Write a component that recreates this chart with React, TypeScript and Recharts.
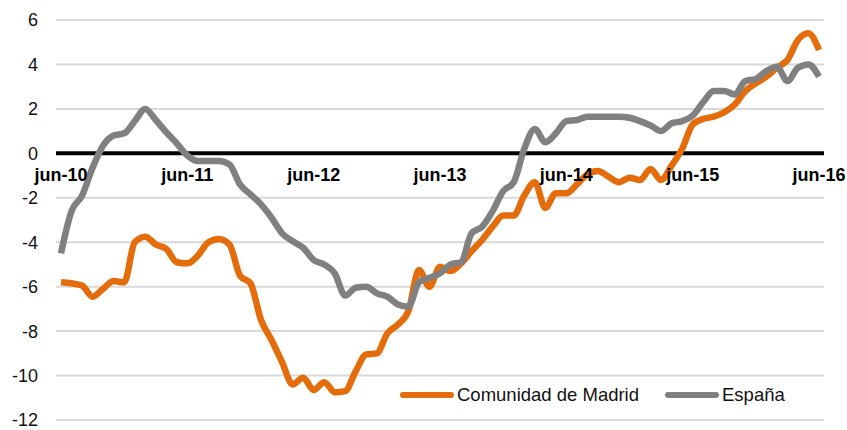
import React from 'react';
import {
  CartesianGrid,
  Legend,
  Line,
  LineChart,
  ReferenceDot,
  ReferenceLine,
  XAxis,
  YAxis,
} from 'recharts';

const monthNames = ['ene', 'feb', 'mar', 'abr', 'may', 'jun', 'jul', 'ago', 'sep', 'oct', 'nov', 'dic'];

// jun-10 .. jun-16, monthly
const months = Array.from({ length: 73 }, (_, i) => {
  const m = 5 + i;
  return `${monthNames[m % 12]}-${10 + Math.floor(m / 12)}`;
});

const xTickLabels = ['jun-10', 'jun-11', 'jun-12', 'jun-13', 'jun-14', 'jun-15', 'jun-16'];
const yTicks = [-12, -10, -8, -6, -4, -2, 0, 2, 4, 6];

const madrid = [
  -5.8, -5.85, -5.95, -6.45, -6.1, -5.75, -5.8, -4.0, -3.75, -4.1, -4.3, -4.9,
  -4.95, -4.6, -4.0, -3.85, -4.1, -5.5, -5.85, -7.5, -8.4, -9.4, -10.4, -10.1,
  -10.65, -10.3, -10.75, -10.7, -9.8, -9.05, -9.0, -8.1, -7.7, -7.1, -5.25, -6.0,
  -5.1, -5.3, -4.95, -4.4, -3.9, -3.3, -2.8, -2.8, -1.9, -1.3, -2.45, -1.8,
  -1.8, -1.4, -0.95, -0.8, -1.05, -1.3, -1.1, -1.2, -0.7, -1.2, -0.55, 0.2,
  1.3, 1.55, 1.65, 1.85, 2.2, 2.8, 3.15, 3.45, 3.85, 4.2, 5.1, 5.4,
  4.65,
];

const espana = [
  -4.5, -2.6, -1.9, -0.65, 0.35, 0.8, 0.9, 1.45, 2.0, 1.5, 0.95, 0.45,
  -0.1, -0.35, -0.35, -0.35, -0.5, -1.4, -1.85, -2.3, -2.9, -3.6, -3.95, -4.25,
  -4.8, -5.0, -5.4, -6.4, -6.05, -6.0, -6.3, -6.45, -6.8, -6.9, -5.8, -5.6,
  -5.4, -5.0, -4.9, -3.6, -3.3, -2.6, -1.7, -1.3, 0.2, 1.1, 0.5, 0.9,
  1.45, 1.5, 1.65, 1.65, 1.65, 1.65, 1.6, 1.45, 1.25, 1.0, 1.35, 1.45,
  1.7, 2.3, 2.8, 2.8, 2.65, 3.25, 3.35, 3.7, 3.9, 3.25, 3.85, 4.0,
  3.45,
];

const ORANGE = '#E46C0A';
const GRAY = '#808080';
const FONT = '"Liberation Sans", Arial, Helvetica, sans-serif';

const chartData = months.map((month, i) => ({
  month,
  madrid: madrid[i],
  espana: espana[i],
}));

function LegendContent({ payload }: any) {
  return (
    <div style={{ display: 'flex', alignItems: 'center', fontFamily: FONT, fontSize: 18.5, color: '#111' }}>
      {(payload ?? []).map((entry: any, i: number) => (
        <div key={entry.value} style={{ display: 'flex', alignItems: 'center', marginLeft: i > 0 ? 26 : 0 }}>
          <span
            style={{
              display: 'inline-block',
              width: 54,
              height: 6,
              borderRadius: 3,
              background: entry.color,
              marginRight: 3,
            }}
          />
          <span style={{ whiteSpace: 'nowrap' }}>{entry.value}</span>
        </div>
      ))}
    </div>
  );
}

export default function App() {
  return (
    <div style={{ position: 'absolute', left: 0, top: 0, width: 847, height: 430, background: '#fff' }}>
      <LineChart width={847} height={430} data={chartData} margin={{ top: 20, right: 23, bottom: 10, left: 0 }}>
        <CartesianGrid vertical={false} stroke="#D9D9D9" strokeWidth={2} />
        <XAxis dataKey="month" hide padding={{ left: 5, right: 5 }} />
        <YAxis
          domain={[-12, 6]}
          ticks={yTicks}
          width={56}
          axisLine={false}
          tickLine={false}
          tickSize={0}
          tickMargin={18}
          interval={0}
          tick={{ fontSize: 18, fill: '#111', fontFamily: FONT }}
        />
        <ReferenceLine y={0} stroke="#000" strokeWidth={4} />
        <Line
          type="monotone"
          dataKey="madrid"
          name="Comunidad de Madrid"
          stroke={ORANGE}
          strokeWidth={6.5}
          dot={false}
          isAnimationActive={false}
        />
        <Line
          type="monotone"
          dataKey="espana"
          name="España"
          stroke={GRAY}
          strokeWidth={6.5}
          dot={false}
          isAnimationActive={false}
        />
        {xTickLabels.map((label) => (
          <ReferenceDot
            key={label}
            x={label}
            y={0}
            r={0}
            shape={(p: any) => (
              <text
                x={p.cx}
                y={p.cy + 28}
                textAnchor="middle"
                fontFamily={FONT}
                fontSize={18}
                fontWeight="bold"
                fill="#000"
              >
                {label}
              </text>
            )}
          />
        ))}
        <Legend
          layout="vertical"
          verticalAlign="middle"
          align="center"
          content={<LegendContent />}
          wrapperStyle={{ left: 400, top: 384, width: 'auto' }}
        />
      </LineChart>
    </div>
  );
}
